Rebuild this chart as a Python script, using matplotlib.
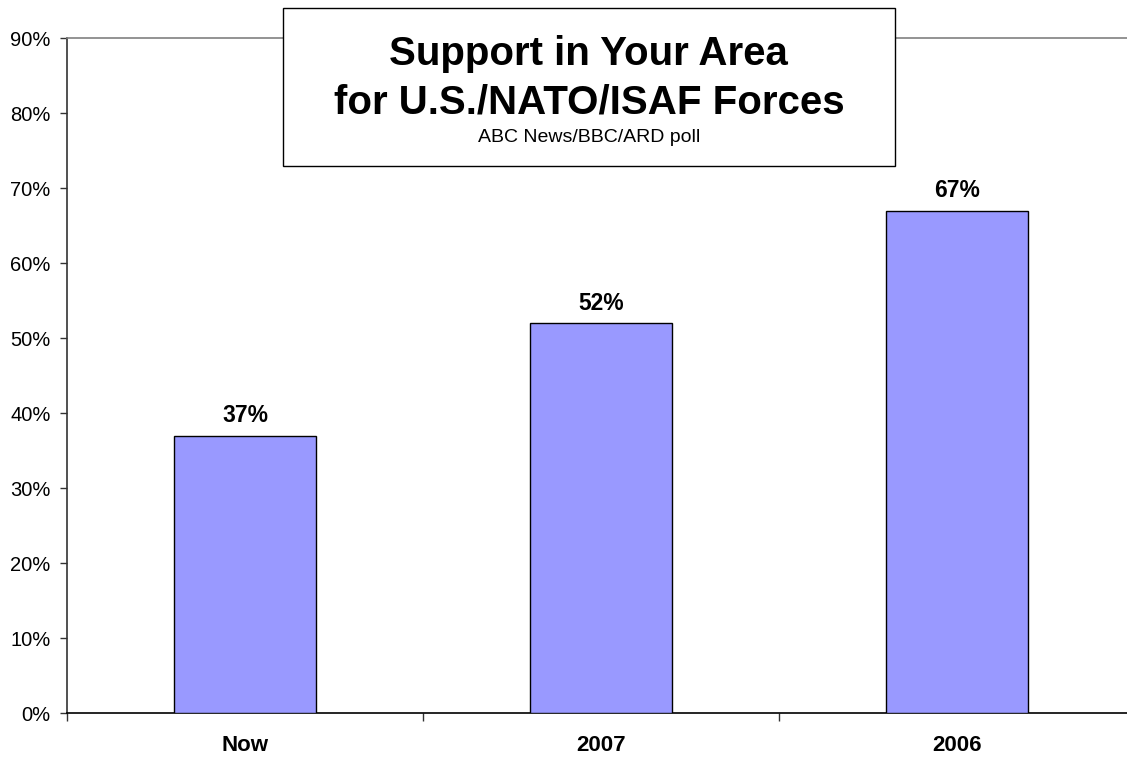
import matplotlib
matplotlib.use("Agg")
import matplotlib.pyplot as plt
from matplotlib.patches import Rectangle
from matplotlib.ticker import FixedLocator

plt.rcParams['font.family'] = ['Liberation Sans', 'DejaVu Sans']

# data
categories = ['Now', '2007', '2006']
support = [37, 52, 67]
y_ticks = [0, 10, 20, 30, 40, 50, 60, 70, 80, 90]

title_lines = ['Support in Your Area', 'for U.S./NATO/ISAF Forces']
subtitle = 'ABC News/BBC/ARD poll'

fig = plt.figure(figsize=(11.27, 7.6), dpi=100)
ax = fig.add_axes([0.0595, 0.0618, 0.9477, 0.8882])

x = range(len(categories))
bars = ax.bar(x, support, width=0.4, color='#9999FF', edgecolor='black', linewidth=1.0, zorder=3)

for xi, v in zip(x, support):
    ax.annotate(f'{v}%', (xi, v), xytext=(0, 6), textcoords='offset points',
                ha='center', va='bottom', fontsize=16.5, fontweight='bold')

ax.set_xlim(-0.5, len(categories) - 0.5)
ax.set_ylim(0, 90)
ax.set_yticks(y_ticks)
ax.set_yticklabels([f'{t}%' for t in y_ticks], fontsize=14.5)
ax.set_xticks(list(x))
ax.set_xticklabels(categories, fontsize=16, fontweight='bold')
ax.tick_params(axis='x', which='major', length=0, pad=16)
ax.xaxis.set_minor_locator(FixedLocator([i + 0.5 for i in range(len(categories) - 1)] + [-0.5]))
ax.tick_params(axis='x', which='minor', length=6, width=1, color='#333333', direction='out')
ax.tick_params(axis='y', length=5, width=1, color='#333333', direction='out', pad=7)

ax.spines['left'].set_color('#333333')
ax.spines['bottom'].set_color('black')
ax.spines['top'].set_color('#808080')
ax.spines['right'].set_visible(False)
for s in ax.spines.values():
    s.set_linewidth(1.2)

# title box
box = Rectangle((0.2511, 0.7816), 0.543, 0.2079, transform=fig.transFigure,
                facecolor='white', edgecolor='black', linewidth=1.0, zorder=10)
fig.patches.append(box)
fig.text(0.5225, 1 - 54 / 760, title_lines[0], ha='center', va='center',
         fontsize=29, fontweight='bold', zorder=11)
fig.text(0.5225, 1 - 102 / 760, title_lines[1], ha='center', va='center',
         fontsize=29, fontweight='bold', zorder=11)
fig.text(0.5225, 1 - 138 / 760, subtitle, ha='center', va='center',
         fontsize=14, zorder=11)

fig.savefig('out.png', dpi=100)
